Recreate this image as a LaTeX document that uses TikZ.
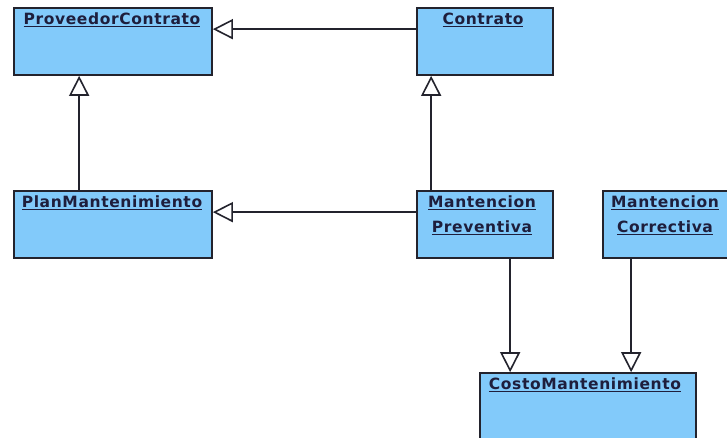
\documentclass[tikz,border=0pt]{standalone}
\usepackage{fontspec}
\setmainfont{DejaVu Sans}
\newfontfamily\lblfont[LetterSpace=4]{DejaVu Sans Bold}
\usetikzlibrary{arrows.meta}
\definecolor{boxblue}{RGB}{130,202,250}
\definecolor{boxline}{RGB}{35,35,45}
\definecolor{txtc}{RGB}{30,30,60}
\newcommand\myul[1]{\setbox0\hbox{#1}\rlap{\copy0}\rule[-3pt]{\wd0}{1.5pt}}
\tikzset{
  cls/.style={draw=boxline, line width=1.7pt, fill=boxblue, inner sep=0pt,
              minimum height=67pt},
  lbl/.style={font=\lblfont\fontsize{15.5}{18}\selectfont, text=txtc, anchor=base, inner sep=0pt},
  inh/.style={draw=boxline, line width=1.6pt,
              -{Triangle[length=20pt, width=20pt, fill=white, line width=1.6pt]}},
}
\begin{document}
\begin{tikzpicture}[x=1pt, y=-1pt]
\useasboundingbox (0,0) rectangle (727,438);
\fill[white] (0,0) rectangle (727,438);
\clip (0,0) rectangle (727,438);

\node[cls, minimum width=198pt] (pc) at (113,41.5) {};
\node[cls, minimum width=136pt] (ct) at (485,41.5) {};
\node[cls, minimum width=198pt] (pm) at (113,224.5) {};
\node[cls, minimum width=136pt] (mp) at (485,224.5) {};
\node[cls, minimum width=136pt] (mc) at (671,224.5) {};
\node[cls, minimum width=216pt] (cm) at (588,406.5) {};

\node[lbl] (pcT) at ([xshift=-1pt,yshift=-17pt]pc.north) {\myul{ProveedorContrato}};
\node[lbl] (ctT) at ([xshift=-2pt,yshift=-17pt]ct.north) {\myul{Contrato}};
\node[lbl] (pmT) at ([xshift=-1pt,yshift=-17pt]pm.north) {\myul{PlanMantenimiento}};
\node[lbl] (mpT1) at ([xshift=-3pt,yshift=-17pt]mp.north) {\myul{Mantencion}};
\node[lbl] (mpT2) at ([xshift=-3pt,yshift=-42pt]mp.north) {\myul{Preventiva}};
\node[lbl] (mcT1) at ([xshift=-6pt,yshift=-17pt]mc.north) {\myul{Mantencion}};
\node[lbl] (mcT2) at ([xshift=-6pt,yshift=-42pt]mc.north) {\myul{Correctiva}};
\node[lbl] (cmT) at ([xshift=-3pt,yshift=-17pt]cm.north) {\myul{CostoMantenimiento}};

\draw[inh] ([yshift=-22pt]ct.north west) -- ([yshift=-22pt]pc.north east);
\draw[inh] ([xshift=66pt]pm.north west) -- ([xshift=66pt]pc.south west);
\draw[inh] ([xshift=15pt]mp.north west) -- ([xshift=15pt]ct.south west);
\draw[inh] ([yshift=-22pt]mp.north west) -- ([yshift=-22pt]pm.north east);
\draw[inh] ([xshift=94pt]mp.south west) -- ([xshift=31pt]cm.north west);
\draw[inh] ([xshift=29pt]mc.south west) -- ([xshift=152pt]cm.north west);
\end{tikzpicture}
\end{document}
